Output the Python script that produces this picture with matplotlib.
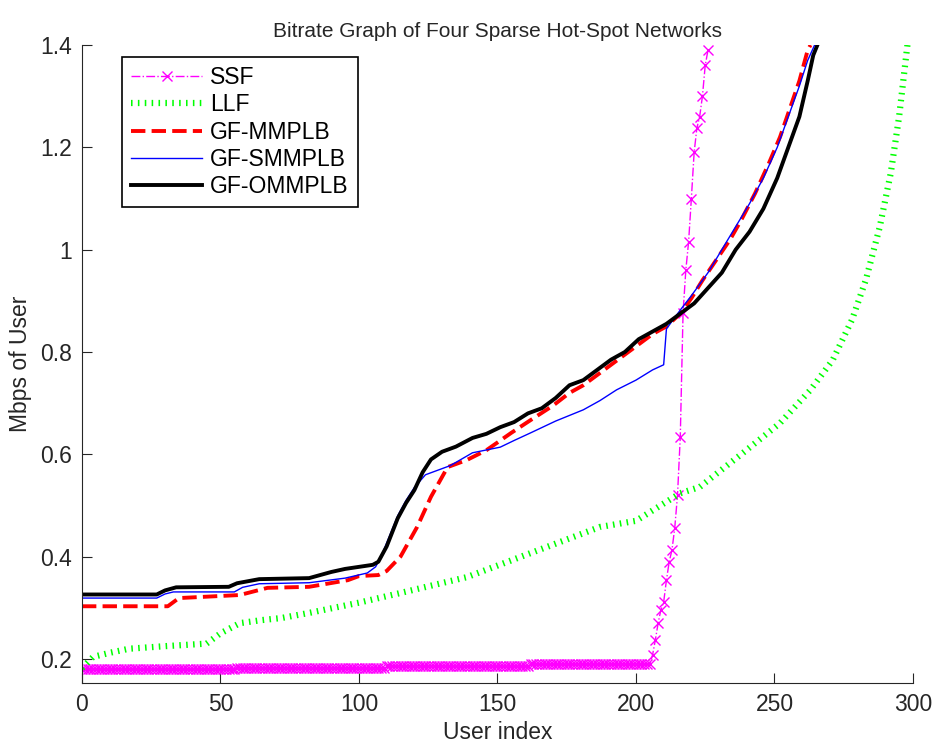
import numpy as np
import matplotlib
matplotlib.use('Agg')
import matplotlib.pyplot as plt

plt.rcParams['font.family'] = ['Liberation Sans', 'DejaVu Sans']

# SSF: long flat runs, then a steep climb (one value per user)
ssf_run_vals = [0.180, 0.183, 0.186, 0.190]
ssf_run_lens = [56, 54, 52, 44]
ssf_tail = [0.208, 0.237, 0.27, 0.296, 0.311, 0.354, 0.39, 0.413, 0.456, 0.52,
            0.634, 0.876, 0.96, 1.015, 1.10, 1.19, 1.238, 1.26, 1.30, 1.36, 1.39]

# LLF
llf_x = [0, 4, 10, 17, 30, 45, 50, 57, 65, 72, 82, 100, 115, 139, 162, 187, 200,
         216, 223, 234, 238, 252, 263, 271, 278, 283, 288, 292, 295, 298]
llf_y = [0.182, 0.204, 0.212, 0.22, 0.225, 0.23, 0.25, 0.27, 0.276, 0.28, 0.29,
         0.31, 0.329, 0.36, 0.407, 0.458, 0.47, 0.524, 0.536, 0.583, 0.60, 0.661,
         0.726, 0.784, 0.863, 0.941, 1.044, 1.15, 1.26, 1.40]

# GF-MMPLB
mm_x = [0, 31, 35, 57, 62, 67, 82, 96, 100, 107, 110, 115, 121, 126, 132, 139,
        146, 155, 162, 170, 176, 181, 186, 191, 196, 201, 206, 211, 216, 220,
        224, 229, 234, 238, 243, 248, 252, 255, 259, 262, 263]
mm_y = [0.303, 0.303, 0.319, 0.325, 0.332, 0.339, 0.341, 0.354, 0.362, 0.364,
        0.372, 0.40, 0.458, 0.517, 0.575, 0.589, 0.608, 0.642, 0.667, 0.695,
        0.72, 0.735, 0.755, 0.775, 0.795, 0.815, 0.835, 0.85, 0.875, 0.905,
        0.94, 0.98, 1.02, 1.058, 1.11, 1.169, 1.22, 1.267, 1.33, 1.39, 1.40]

# GF-SMMPLB
sm_x = [0, 27, 30, 33, 55, 58, 64, 82, 95, 103, 106, 108, 111, 114, 117, 120,
        124, 128, 133, 141, 151, 156, 162, 171, 181, 187, 193, 200, 206, 210,
        211, 213, 216, 220, 226, 231, 236, 241, 246, 251, 255, 259, 262, 264.5]
sm_y = [0.319, 0.319, 0.327, 0.331, 0.331, 0.34, 0.347, 0.349, 0.358, 0.368,
        0.38, 0.40, 0.44, 0.48, 0.51, 0.535, 0.56, 0.568, 0.578, 0.603, 0.614,
        0.627, 0.642, 0.665, 0.687, 0.705, 0.726, 0.745, 0.765, 0.775, 0.845,
        0.86, 0.882, 0.91, 0.955, 1.0, 1.045, 1.09, 1.14, 1.2, 1.26, 1.32,
        1.37, 1.40]

# GF-OMMPLB
om_x = [0, 27, 30, 34, 53, 56, 64, 82, 90, 95, 100, 105, 107, 110, 114, 117,
        120, 123, 126, 130, 135, 141, 146, 151, 156, 161, 166, 171, 176, 181,
        186, 191, 196, 201, 206, 211, 216, 221, 226, 231, 236, 241, 246, 251,
        255, 259, 262, 264, 265.5]
om_y = [0.326, 0.326, 0.334, 0.340, 0.341, 0.348, 0.356, 0.358, 0.37, 0.376,
        0.38, 0.384, 0.39, 0.42, 0.475, 0.505, 0.53, 0.565, 0.59, 0.605, 0.615,
        0.632, 0.64, 0.653, 0.663, 0.68, 0.69, 0.71, 0.735, 0.745, 0.765, 0.785,
        0.80, 0.825, 0.84, 0.855, 0.875, 0.895, 0.925, 0.955, 1.0, 1.035, 1.08,
        1.14, 1.2, 1.26, 1.33, 1.38, 1.40]

ssf_y = np.concatenate([np.repeat(ssf_run_vals, ssf_run_lens), ssf_tail])
ssf_x = np.arange(len(ssf_y))

fig = plt.figure(figsize=(9.41, 7.48), dpi=100)
ax = fig.add_axes([0.0871, 0.0869, 0.8831, 0.8529])

ax.plot(ssf_x, ssf_y, '-.', color='#ff00ff', lw=1, marker='x', ms=7.5, mew=1,
        label='SSF')
ax.plot(llf_x, llf_y, color='#00ff00', lw=4.5, linestyle=(0, (0.25, 0.85)),
        label='LLF')
ax.plot(mm_x, mm_y, '--', color='#ff0000', lw=2.8, label='GF-MMPLB')
ax.plot(sm_x, sm_y, '-', color='#0000ff', lw=1, label='GF-SMMPLB')
ax.plot(om_x, om_y, '-', color='#000000', lw=2.8, label='GF-OMMPLB')

ax.set_xlim(0, 300)
ax.set_ylim(0.153, 1.4)
ax.set_xticks([0, 50, 100, 150, 200, 250, 300])
ax.set_yticks([0.2, 0.4, 0.6, 0.8, 1.0, 1.2, 1.4])
ax.set_yticklabels(['0.2', '0.4', '0.6', '0.8', '1', '1.2', '1.4'])
ax.tick_params(direction='in', length=7, labelsize=16.5, color='#262626',
               labelcolor='#262626')
ax.tick_params(axis='y', pad=7)
ax.tick_params(axis='x', pad=7)
ax.spines['top'].set_visible(False)
ax.spines['right'].set_visible(False)
for s in ('left', 'bottom'):
    ax.spines[s].set_color('#262626')

ax.set_xlabel('User index', fontsize=16.5, color='#262626', labelpad=4)
ax.set_ylabel('Mbps of User', fontsize=16.5, color='#262626', labelpad=6)
ax.set_title('Bitrate Graph of Four Sparse Hot-Spot Networks', fontsize=15,
             color='#262626', pad=6)

leg = ax.legend(loc='upper left', bbox_to_anchor=(0.048, 0.981),
                borderaxespad=0, fontsize=16.5, fancybox=False, framealpha=1,
                edgecolor='black', handlelength=3.1, handletextpad=0.35,
                labelspacing=0.18, borderpad=0.4)
leg.get_frame().set_linewidth(1.2)

fig.savefig('out.png', dpi=100)
